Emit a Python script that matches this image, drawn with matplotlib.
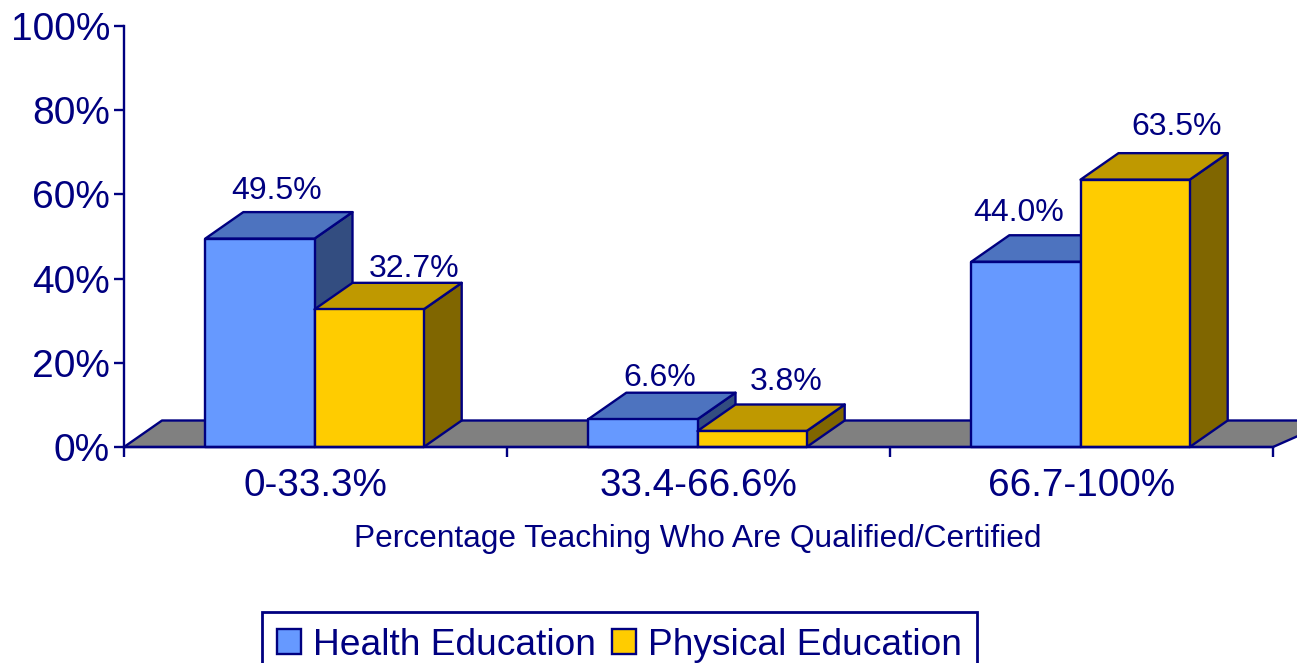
import matplotlib
matplotlib.use("Agg")
import matplotlib.pyplot as plt
from matplotlib.patches import Polygon, Patch
from matplotlib.ticker import FixedLocator, FixedFormatter

categories = ["0-33.3%", "33.4-66.6%", "66.7-100%"]
health = [49.5, 6.6, 44.0]
physical = [32.7, 3.8, 63.5]
series_names = ["Health Education", "Physical Education"]
y_ticks = [0, 20, 40, 60, 80, 100]

NAVY = "#000080"
plt.rcParams["font.family"] = ["Liberation Sans", "DejaVu Sans"]
W, H = 1297, 663
fig = plt.figure(figsize=(W / 100, H / 100), dpi=100)
ax = fig.add_axes([124 / W, 1 - 447 / H, 1149 / W, 421 / H])
ax.set_xlim(0, 3)
ax.set_ylim(0, 100)
ax.patch.set_visible(False)

PX = 383.0
dx, dy = 38 / PX, 26.5 / 4.21
bw, off = 109.2 / PX, 81.3 / PX
LW = 1.7

# label offsets in pixels from the centre of each bar's front / top of its depth
health_off = [(17, 21), (17, 15), (-7, 22)]
phys_off = [(45, 14), (34, 23), (42, 26)]


def poly(pts, color, z):
    ax.add_patch(Polygon(pts, closed=True, fc=color, ec=NAVY, lw=LW, clip_on=False, zorder=z, joinstyle="round"))


# floor
poly([(0, 0), (dx, dy), (3 + 60 / PX, dy), (3, 0)], "#808080", 1)


def bar3d(x, v, front, top, side, z):
    poly([(x + bw, 0), (x + bw + dx, dy), (x + bw + dx, v + dy), (x + bw, v)], side, z)
    poly([(x, v), (x + dx, v + dy), (x + bw + dx, v + dy), (x + bw, v)], top, z)
    poly([(x, 0), (x + bw, 0), (x + bw, v), (x, v)], front, z + 0.1)


def label(x, v, o):
    ax.annotate(f"{v:.1f}%", (x + bw / 2, v + dy), xytext=(o[0] * 0.72, o[1] * 0.72), textcoords="offset points",
                ha="center", va="center", color=NAVY, fontsize=23, annotation_clip=False, zorder=10)


for i, (h, p) in enumerate(zip(health, physical)):
    x0 = i + off
    bar3d(x0, h, "#6699FF", "#4D73BF", "#334D80", 2 + i)
    bar3d(x0 + bw, p, "#FFCC00", "#BF9900", "#806600", 2.5 + i)
    label(x0, h, health_off[i])
    label(x0 + bw, p, phys_off[i])

for s in ("top", "right"):
    ax.spines[s].set_visible(False)
for s in ("left", "bottom"):
    ax.spines[s].set_color(NAVY)
    ax.spines[s].set_linewidth(LW)
    ax.spines[s].set_zorder(20)

ax.set_yticks(y_ticks)
ax.set_yticklabels([f"{t}%" for t in y_ticks], va="center_baseline")
ax.xaxis.set_major_locator(FixedLocator([0, 1, 2, 3]))
ax.xaxis.set_major_formatter(FixedFormatter([""] * 4))
ax.set_xticks([0.5, 1.5, 2.5], labels=categories, minor=True)
ax.tick_params(axis="y", colors=NAVY, labelsize=28, length=7, width=LW, pad=3, direction="out")
ax.tick_params(axis="x", which="major", colors=NAVY, length=7, width=LW)
ax.tick_params(axis="x", which="minor", colors=NAVY, labelsize=27.8, length=0, pad=15)
fig.text(698 / W, 1 - 538.5 / H, "Percentage Teaching Who Are Qualified/Certified", ha="center", va="center",
         color=NAVY, fontsize=22.8)

handles = [Patch(fc="#6699FF", ec=NAVY, lw=LW), Patch(fc="#FFCC00", ec=NAVY, lw=LW)]
leg = fig.legend(handles, series_names, loc="upper center", bbox_to_anchor=(619.5 / W, 1 - 612 / H), ncol=2,
                 fontsize=26.7, labelcolor=NAVY, frameon=True, fancybox=False, edgecolor=NAVY,
                 framealpha=1, handlelength=0.65, handleheight=0.65, handletextpad=0.32, columnspacing=0.43,
                 borderpad=0.42, borderaxespad=0)
leg.get_frame().set_linewidth(2)
fig.savefig("out.png", dpi=100)
